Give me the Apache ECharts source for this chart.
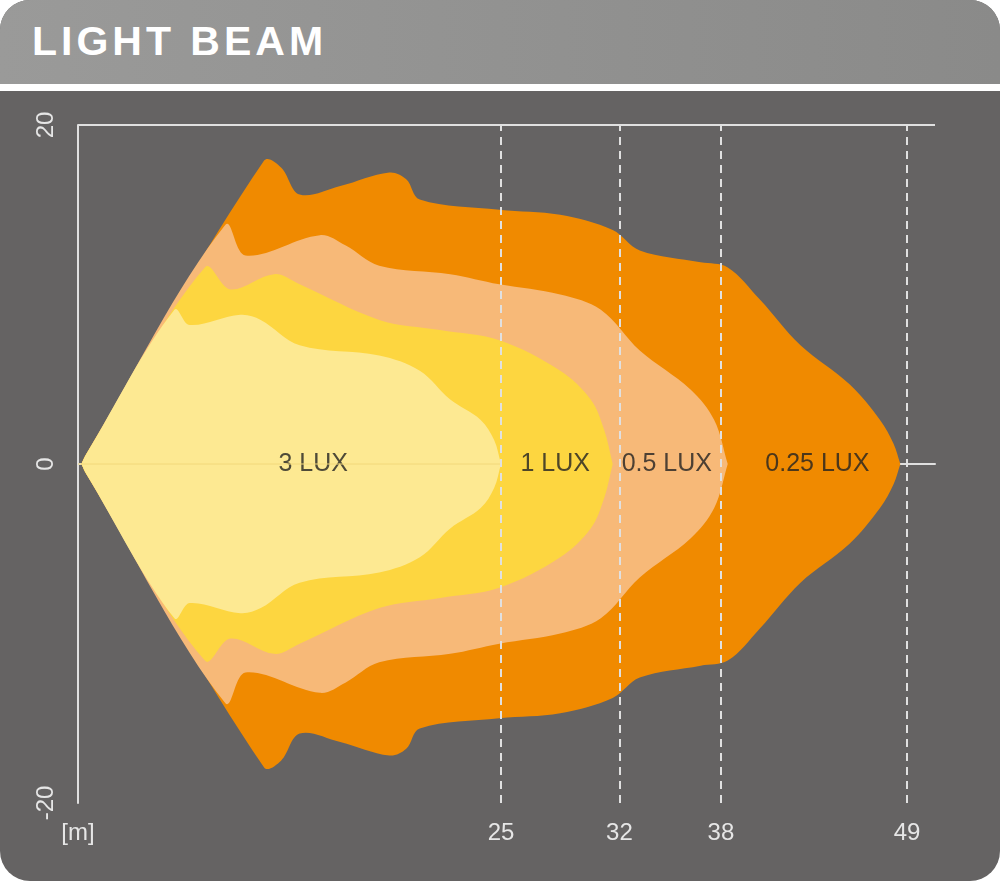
<!DOCTYPE html>
<html>
<head>
<meta charset="utf-8">
<title>Light beam</title>
<script src="https://cdn.jsdelivr.net/npm/echarts@6/dist/echarts.min.js"></script>
<style>
    * { margin: 0; padding: 0; }
    body { background: #fff; width: 1000px; height: 881px; overflow: hidden; }
    #card {
        position: absolute; left: 0; top: 0; width: 1000px; height: 881px;
        border-radius: 30px; overflow: hidden; background: #656363;
    }
    #head {
        position: absolute; left: 0; top: 0; width: 1000px; height: 84px;
        background: linear-gradient(to right, #9a9a99, #8a8a89);
        border-bottom: 7px solid #fff;
    }
    #head span {
        position: absolute; left: 32px; top: 18px; color: #fff;
        font: bold 41px "Liberation Sans", Arial, sans-serif; letter-spacing: 4px;
    }
    #main { position: absolute; left: 0; top: 0; width: 1000px; height: 881px; }
</style>
</head>
<body>
<div id="card"><div id="head"><span>LIGHT BEAM</span></div></div>
<div id="main"></div>
<script>
    // upper half of each zone, [distance m, half width m]; mirrored below
    var lux025 = [[0.2,0],[0.5,0.6],[11.0,17.9],[12.0,17.5],[13.1,15.9],[15.5,16.4],[18.4,17.2],[19.4,16.8],[20.2,15.6],[24.9,15.0],[28.5,14.7],[31.6,13.8],[33.2,12.6],[36.8,11.9],[38.4,11.6],[40.3,9.7],[42.7,7.0],[45.6,4.7],[47.4,2.6],[48.2,1.2],[48.6,0]];
    var lux05 = [[0.2,0],[0.5,0.6],[8.7,14.1],[9.9,12.3],[14.3,13.5],[15.8,12.9],[17.8,11.7],[22.0,11.2],[24.9,10.6],[28.5,10.0],[30.9,9.1],[33.2,6.7],[36.2,4.4],[37.6,2.6],[38.4,0]];
    var lux1 = [[0.2,0],[0.5,0.6],[7.5,11.6],[9.0,10.3],[11.6,11.2],[13.1,10.6],[17.8,8.5],[21.4,7.9],[24.9,7.3],[28.5,5.5],[30.3,3.8],[31.1,2.0],[31.6,0]];
    var lux3 = [[0.2,0],[0.5,0.6],[5.7,9.1],[6.6,8.2],[9.6,8.8],[10.8,8.5],[13.1,7.0],[17.8,6.4],[20.2,5.5],[22.0,3.8],[23.8,2.6],[24.6,1.4],[25.0,0]];
    var zoneNames = ['0.25 LUX', '0.5 LUX', '1 LUX', '3 LUX'];
    var zoneColors = ['#f08a00', '#f7b978', '#fdd640', '#fde992'];
    var labelX = [43.7, 34.8, 28.2, 13.9];
    var xTicks = [0, 25, 32, 38, 49];
    var dashX = [25, 32, 38, 49];
    var yTicks = [-20, 0, 20];

    function fullShape(upper) {
        var lower = upper.slice().reverse().map(function (p) { return [p[0], -p[1]]; });
        return upper.concat(lower);
    }

    function zone(name, upper, color) {
        var pts = fullShape(upper);
        return {
            name: name, type: 'custom', silent: true,
            data: pts,
            renderItem: function (params, api) {
                if (params.dataIndex !== 0) return null;
                return {
                    type: 'polygon',
                    shape: { points: pts.map(function (p) { return api.coord(p); }), smooth: 0.35 },
                    style: { fill: color }
                };
            }
        };
    }

    var chart = echarts.init(document.getElementById('main'));
    var series = [
        zone(zoneNames[0], lux025, zoneColors[0]),
        zone(zoneNames[1], lux05, zoneColors[1]),
        zone(zoneNames[2], lux1, zoneColors[2]),
        zone(zoneNames[3], lux3, zoneColors[3]),
        {
            type: 'line', data: [[0, 0], [25, 0]], symbol: 'none', silent: true,
            lineStyle: { color: '#f2d87a', width: 1 }
        },
        {
            type: 'scatter', symbolSize: 0, silent: true,
            data: labelX.map(function (x, i) { return { value: [x, 0], name: zoneNames[i] }; }),
            label: {
                show: true, position: 'inside', formatter: '{b}',
                color: '#222', fontSize: 25, fontFamily: 'Liberation Sans, Arial, sans-serif'
            },
            markLine: {
                symbol: 'none', silent: true, label: { show: false },
                lineStyle: { color: '#e0e0e0', width: 2, type: [8, 6] },
                data: dashX.map(function (x) { return { xAxis: x }; })
                    .concat([[{ coord: [0, 20], lineStyle: { type: 'solid' } }, { coord: [50.65, 20] }]])
            }
        }
    ];

    var option = {
        animation: false,
        grid: { left: 78, right: 65, top: 125, bottom: 78 },
        xAxis: {
            type: 'value', min: 0, max: 50.65,
            axisLine: { lineStyle: { color: '#e0e0e0', width: 2 } },
            axisTick: { show: false },
            splitLine: { show: false },
            axisLabel: {
                customValues: xTicks, color: '#e6e6e6', fontSize: 24, margin: 18,
                fontFamily: 'Liberation Sans, Arial, sans-serif',
                formatter: function (v) { return v === 0 ? '[m]' : v; }
            }
        },
        yAxis: {
            type: 'value', min: -20, max: 20,
            axisLine: { show: true, lineStyle: { color: '#e0e0e0', width: 2 } },
            axisTick: { show: false },
            splitLine: { show: false },
            axisLabel: {
                customValues: yTicks, color: '#e6e6e6', fontSize: 24, rotate: 90, margin: 20,
                fontFamily: 'Liberation Sans, Arial, sans-serif'
            }
        },
        series: series
    };
    chart.setOption(option);
</script>
</body>
</html>
